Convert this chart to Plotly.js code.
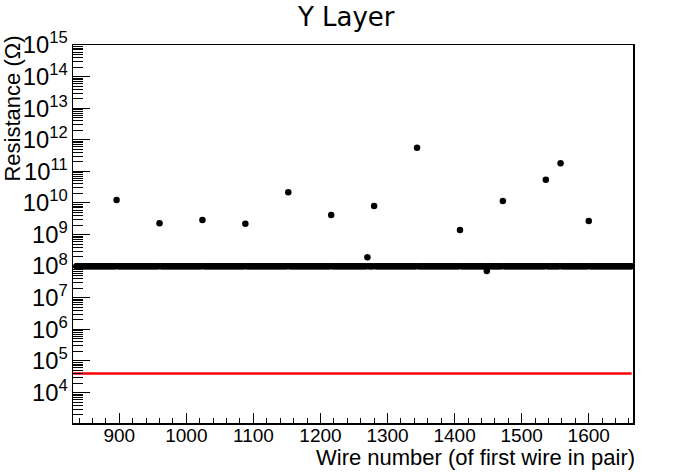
<!DOCTYPE html>
<html>
<head>
<meta charset="utf-8">
<script src="https://cdn.plot.ly/plotly-3.0.1.min.js"></script>
<style>
  html, body { margin: 0; padding: 0; background: #fff; }
  #chart { width: 698px; height: 473px; }
</style>
</head>
<body>
<div id="chart"></div>
<script>
const outlierWires = [896, 960, 1024, 1088, 1152, 1216, 1270, 1280, 1344, 1408, 1448, 1472, 1536, 1558, 1600];
const outlierOhms  = [1.25e10, 2.3e9, 2.9e9, 2.2e9, 2.2e10, 4.2e9, 1.9e8, 8e9, 5.6e11, 1.4e9, 7e7, 1.15e10, 5.4e10, 1.8e11, 2.7e9];

// every other pair reads the meter's nominal ceiling
const firstWire = 836;
const lastWire = 1664;
const wireStep = 2;
const nominalOhms = 1e8;

// red threshold line
const thresholdOhms = 4e4;
const thresholdWires = [831, 1664];

const xTickVals = [900, 1000, 1100, 1200, 1300, 1400, 1500, 1600];

var nominalWires = [];
var nominalValues = [];
for (var w = firstWire; w <= lastWire; w += wireStep) {
    if (outlierWires.indexOf(w) !== -1) continue;
    nominalWires.push(w);
    nominalValues.push(nominalOhms);
}

const font = 'Liberation Sans, Arial, Helvetica, sans-serif';

var traces = [
    {
        x: thresholdWires,
        y: thresholdWires.map(function() { return thresholdOhms; }),
        mode: 'lines',
        type: 'scatter',
        line: { color: '#ff0000', width: 2.5 },
        hoverinfo: 'skip'
    },
    {
        x: nominalWires,
        y: nominalValues,
        mode: 'markers',
        type: 'scatter',
        marker: { color: '#000', size: 6.5, symbol: 'circle' },
        cliponaxis: false
    },
    {
        x: outlierWires,
        y: outlierOhms,
        mode: 'markers',
        type: 'scatter',
        marker: { color: '#000', size: 6.5, symbol: 'circle' },
        cliponaxis: false
    }
];

var layout = {
    width: 698,
    height: 473,
    showlegend: false,
    paper_bgcolor: '#fff',
    plot_bgcolor: '#fff',
    margin: { l: 73, r: 65, t: 45, b: 50 },
    font: { family: font, size: 19, color: '#000' },
    title: {
        text: 'Y Layer',
        font: { family: 'DejaVu Sans, sans-serif', size: 26, color: '#000' },
        x: 0.496, xanchor: 'center',
        y: 1 - 17 / 473, yanchor: 'middle'
    },
    xaxis: {
        range: [831, 1666],
        tickvals: xTickVals,
        ticks: 'inside',
        ticklen: 10,
        tickwidth: 1,
        tickcolor: '#000',
        ticklabelstandoff: -5,
        minor: { dtick: 20, tick0: 0, ticks: 'inside', ticklen: 5, tickcolor: '#000', showgrid: false },
        showline: true, linecolor: '#000', linewidth: 1.5, mirror: true,
        showgrid: false, zeroline: false,
        tickfont: { family: font, size: 19 }
    },
    yaxis: {
        type: 'log',
        range: [3.037, 15],
        dtick: 1,
        exponentformat: 'power',
        ticks: 'inside',
        ticklen: 17,
        tickwidth: 1,
        tickcolor: '#000',
        minor: { dtick: 'D1', ticks: 'inside', ticklen: 10, tickcolor: '#000', showgrid: false },
        showline: true, linecolor: '#000', linewidth: 1.5, mirror: true,
        showgrid: false, zeroline: false,
        tickfont: { family: font, size: 19 }
    },
    annotations: [
        {
            text: 'Wire number (of first wire in pair)',
            xref: 'paper', yref: 'paper',
            x: 1.0066, xanchor: 'right',
            y: -0.09, yanchor: 'middle',
            showarrow: false,
            font: { family: font, size: 22, color: '#000' }
        },
        {
            text: 'Resistance (\u03a9)',
            xref: 'paper', yref: 'paper',
            x: -0.108, xanchor: 'center',
            y: 1.029, yanchor: 'top',
            textangle: -90,
            showarrow: false,
            font: { family: font, size: 22, color: '#000' }
        }
    ]
};

Plotly.newPlot('chart', traces, layout, { staticPlot: true });
</script>
</body>
</html>
